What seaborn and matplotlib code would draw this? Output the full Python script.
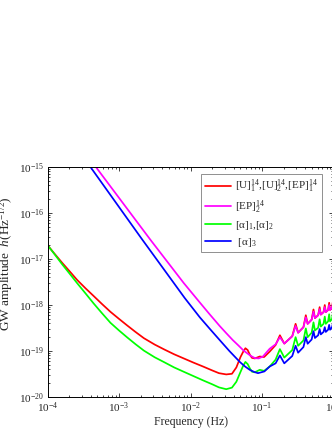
import matplotlib
matplotlib.use('Agg')
import matplotlib.pyplot as plt
import seaborn as sns

# values (frequency in Hz, amplitude in Hz^-1/2)
f_hi = [0.155, 0.178, 0.205, 0.265, 0.295, 0.32, 0.38, 0.41, 0.435, 0.495, 0.525, 0.55,
        0.61, 0.64, 0.665, 0.725, 0.755, 0.78, 0.84, 0.87, 0.895, 0.955, 0.985, 1.0]

red_f = [1.0e-4, 1.26e-4, 1.6e-4, 2.04e-4, 2.6e-4, 3.39e-4, 4.4e-4, 5.75e-4, 7.6e-4, 1.0e-3,
         1.3e-3, 1.7e-3, 2.23e-3, 3.16e-3, 4.3e-3, 5.9e-3, 8.05e-3, 1.1e-2, 1.5e-2, 2.0e-2,
         2.5e-2, 3.16e-2, 3.8e-2, 4.38e-2, 5.0e-2, 5.43e-2, 5.86e-2, 6.3e-2, 6.76e-2, 7.24e-2,
         7.94e-2, 9.3e-2, 1.07e-1, 1.28e-1]
red_h = [2.0e-17, 1.29e-17, 8.3e-18, 5.4e-18, 3.5e-18, 2.32e-18, 1.58e-18, 1.06e-18, 7.1e-19, 5.0e-19,
         3.6e-19, 2.6e-19, 1.9e-19, 1.38e-19, 1.08e-19, 8.5e-20, 6.9e-20, 5.6e-20, 4.6e-20, 3.8e-20,
         3.3e-20, 3.1e-20, 3.2e-20, 4.4e-20, 7.4e-20, 9.5e-20, 1.15e-19, 1.05e-19, 8.3e-20, 7.1e-20,
         6.9e-20, 7.6e-20, 7.4e-20, 9.7e-20]
red_hi = [1.35e-19, 2.2e-19, 1.45e-19, 2.1e-19, 3.9e-19, 2.5e-19, 3.3e-19, 6.0e-19, 3.9e-19, 4.8e-19, 8.0e-19, 5.2e-19,
          6.0e-19, 9.0e-19, 6.2e-19, 7.0e-19, 1.0e-18, 7.0e-19, 7.8e-19, 1.12e-18, 7.8e-19, 8.8e-19, 1.25e-18, 1.1e-18]

mag_f = [4.3e-4, 4.75e-4, 2.76e-3, 8.05e-3, 1.31e-2, 1.82e-2, 2.56e-2, 3.16e-2, 3.9e-2, 4.68e-2,
         5.43e-2, 6.05e-2, 7.0e-2, 8.0e-2, 9.0e-2, 1.03e-1, 1.28e-1]
mag_h = [1.23e-15, 1.0e-15, 2.6e-17, 3.0e-18, 1.2e-18, 6.5e-19, 3.5e-19, 2.45e-19, 1.73e-19, 1.32e-19,
         1.05e-19, 9.2e-20, 7.8e-20, 7.0e-20, 6.9e-20, 7.6e-20, 1.12e-19]
mag_hi = [1.4e-19, 2.0e-19, 1.45e-19, 2.1e-19, 3.5e-19, 2.5e-19, 3.3e-19, 5.4e-19, 3.9e-19, 4.8e-19, 7.2e-19, 5.2e-19,
          6.0e-19, 8.1e-19, 6.2e-19, 7.0e-19, 9.0e-19, 7.0e-19, 7.8e-19, 1.0e-18, 7.8e-19, 8.8e-19, 1.12e-18, 1.0e-18]

grn_f = [1.0e-4, 1.26e-4, 1.6e-4, 2.04e-4, 2.6e-4, 3.39e-4, 4.4e-4, 5.75e-4, 7.6e-4, 1.0e-3,
         1.3e-3, 1.7e-3, 2.23e-3, 3.16e-3, 4.3e-3, 5.9e-3, 8.05e-3, 1.1e-2, 1.5e-2, 2.0e-2,
         2.5e-2, 3.16e-2, 3.8e-2, 4.38e-2, 5.0e-2, 5.43e-2, 5.86e-2, 6.3e-2, 6.76e-2, 7.24e-2,
         7.94e-2, 9.3e-2, 1.07e-1, 1.28e-1]
grn_h = [2.0e-17, 1.26e-17, 7.7e-18, 4.8e-18, 2.98e-18, 1.8e-18, 1.09e-18, 6.7e-19, 4.1e-19, 2.8e-19,
         1.98e-19, 1.41e-19, 1.02e-19, 7.3e-20, 5.7e-20, 4.4e-20, 3.54e-20, 2.85e-20, 2.3e-20, 1.9e-20,
         1.62e-20, 1.48e-20, 1.6e-20, 2.15e-20, 3.5e-20, 4.7e-20, 5.8e-20, 5.2e-20, 4.2e-20, 3.55e-20,
         3.45e-20, 3.9e-20, 3.7e-20, 4.6e-20]
grn_hi = [6.5e-20, 1.1e-19, 7.2e-20, 1.05e-19, 2.0e-19, 1.3e-19, 1.7e-19, 3.1e-19, 2.0e-19, 2.5e-19, 4.2e-19, 2.8e-19,
          3.2e-19, 4.9e-19, 3.4e-19, 3.9e-19, 5.6e-19, 3.9e-19, 4.4e-19, 6.3e-19, 4.4e-19, 5.0e-19, 7.0e-19, 6.2e-19]

blu_f = [3.6e-4, 3.99e-4, 2.06e-3, 8.3e-3, 1.35e-2, 1.86e-2, 2.56e-2, 3.5e-2, 4.89e-2, 5.8e-2,
         6.74e-2, 7.8e-2, 8.8e-2, 1.08e-1, 1.28e-1]
blu_h = [1.25e-15, 1.0e-15, 2.8e-17, 1.42e-18, 5.4e-19, 3.04e-19, 1.73e-19, 1.0e-19, 5.8e-20, 4.6e-20,
         3.9e-20, 3.5e-20, 3.3e-20, 3.6e-20, 4.6e-20]
blu_hi = [5.4e-20, 8.0e-20, 5.4e-20, 7.8e-20, 1.3e-19, 9.2e-20, 1.22e-19, 2.0e-19, 1.44e-19, 1.78e-19, 2.7e-19, 1.92e-19,
          2.2e-19, 3.0e-19, 2.3e-19, 2.6e-19, 3.3e-19, 2.6e-19, 2.9e-19, 3.7e-19, 2.9e-19, 3.3e-19, 4.1e-19, 3.7e-19]

labels = [r'[U]$_1^{14}$,[U]$_2^{14}$,[EP]$_1^{14}$', r'[EP]$_2^{14}$',
          r'[$\alpha$]$_1$,[$\alpha$]$_2$', r' [$\alpha$]$_3$']
colors = ['#ff0000', '#ff00ff', '#00ff00', '#0000ff']

sns.set_style('ticks')
plt.rcParams['font.family'] = ['Liberation Serif', 'DejaVu Serif']
plt.rcParams['mathtext.fontset'] = 'custom'
plt.rcParams['mathtext.rm'] = 'Liberation Serif'
plt.rcParams['mathtext.it'] = 'Liberation Serif:italic'
plt.rcParams['mathtext.default'] = 'rm'

fig = plt.figure(figsize=(3.32, 4.30), dpi=100)
ax = fig.add_axes([0.1431, 0.0767, 0.8614, 0.5349])

curves = [(red_f + f_hi, red_h + red_hi), (mag_f + f_hi, mag_h + mag_hi),
          (grn_f + f_hi, grn_h + grn_hi), (blu_f + f_hi, blu_h + blu_hi)]
for (f, h), c, lab in zip(curves, colors, labels):
    sns.lineplot(x=f, y=h, color=c, lw=1.25, label=lab, ax=ax, sort=False, estimator=None)

ax.set_xscale('log')
ax.set_yscale('log')
ax.set_xlim(1e-4, 1)
ax.set_ylim(1e-20, 1e-15)

ax.tick_params(which='both', direction='in', top=True, right=True, labelsize=8, width=0.6, pad=2.5)
ax.tick_params(which='major', length=3)
ax.tick_params(which='minor', length=1.6)
for s in ax.spines.values():
    s.set_linewidth(0.7)
    s.set_color('black')

ax.set_xlabel('Frequency (Hz)', fontsize=8.5, labelpad=1)
ax.set_ylabel(r'GW amplitude  $\mathit{h}$(Hz$^{-1/2}$)', fontsize=9.5)
ax.yaxis.set_label_coords(-0.115, 0.578)

leg = ax.legend(loc='upper right', bbox_to_anchor=(0.96, 0.97), borderaxespad=0,
                fontsize=8, frameon=True, fancybox=False,
                handlelength=2.3, handletextpad=0.4, labelspacing=0.3, borderpad=0.35)
leg.get_frame().set_edgecolor('0.45')
leg.get_frame().set_linewidth(0.7)

fig.savefig('out.png', dpi=100)
